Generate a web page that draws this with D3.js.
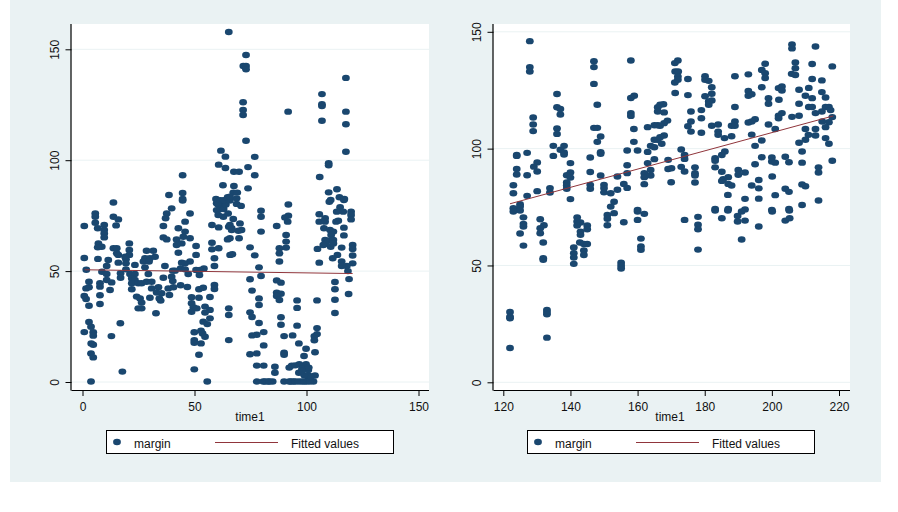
<!DOCTYPE html>
<html><head><meta charset="utf-8">
<style>html,body{margin:0;padding:0;background:#fff}svg{display:block}text{font-family:"Liberation Sans",Arial,sans-serif;font-size:12px;fill:#111}</style>
<script src="https://cdnjs.cloudflare.com/ajax/libs/d3/7.8.5/d3.min.js"></script>
</head><body><svg id="c" width="898" height="512"></svg>
<script>
const legendLabels=["margin","Fitted values"];
const xTitle="time1";
const leftXTicks=[0,50,100,150];
const rightXTicks=[120,140,160,180,200,220];
const yTicks=[0,50,100,150];
const leftFit=[[1,50.6],[120.6,48.9]];
const rightFit=[[122,76.4],[218.3,114]];
const leftPoints=[
[0.8,70.3],[0.8,55.9],[1.7,50.6],[2.9,45.2],[1.6,42.2],[2.9,42.7],[0.8,38.8],[1.6,37.4],[2.9,34.4],[2.9,27.1],[3.8,24.9],[0.8,22.5],[4.8,22.4],[4.8,20.9],[3.9,17.4],[4.8,16.8],[3.8,12.9],[4.8,11.1],[17.8,4.7],[3.8,0.2],
[5.7,76],[5.7,74.5],[5.7,71.8],[6.8,69.3],[9.7,70.8],[9.7,68.5],[9.7,67],[9.7,65.2],[7.1,62.5],[8.6,61],[6.8,60.7],[6.9,55.5],[10.8,52.3],[11.5,55],[8.7,49.7],[10.8,48.7],[7.8,44.5],[7.8,43],[10.8,46],[13,44.9],[12.3,41.5],[7.8,39.1],[7.8,35.2],
[13.8,80.9],[13.8,74.5],[16,73.3],[15,70.6],[13.8,60.3],[15.3,60.3],[15.3,58],[16,57.3],[16,53.8],[19.4,55.3],[20.9,62.5],[20.9,59.5],[20.9,57.3],[19,56.5],[19.4,53.5],[23.4,52.8],[19.4,50.8],[17,49],[17,47],[21.2,48.7],[23.4,48.7],[22,46.7],[23.4,46],[22,44.5],[24.9,44.5],[22,41.8],[26.4,44.5],[28.6,45.2],[29.4,48.7],[30.9,45.2],[27.9,51.7],[28.6,59.2],[31.6,59.2],[27.9,55.8],[30.1,55.8],[32.4,56.5],[27.2,54.3],[29.7,54.3],[36.8,52.3],[36.1,47],[40.3,50.2],[41.3,50.2],[39.8,47.5],[40.3,45.5],[38.3,42.2],[40.6,42.7],[43.8,43.6],[46.8,42.8],[30.9,42.2],[33.9,42.7],[33.1,40.3],[35.3,40],[34.3,37.7],[34.9,36.7],[30.1,38],[24.2,38.5],[25.7,37.7],[26.4,35.8],[24.9,33.2],[26.4,33.2],[32.8,31],[38.8,39.2],[16.9,26.5],[12.9,20.7],
[39.8,78.3],[37.6,76],[37.1,73.8],[36.1,70.3],[42.8,69.3],[45.8,72.3],[48,76],[45.8,67.8],[42,64.3],[45,65.5],[48,64.8],[36.1,65.2],[37.6,64.3],[44.3,62.5],[42,61.8],[42.8,58.3],[50.7,61.3],[50.7,57.3],[44.3,53.8],[48,54.3],[45.8,53.5],[43.8,51.2],[45.8,50.8],[47.2,48.7],[50.7,50.5],[52.2,48.2],[54.2,51.2],[52.5,50.5],[44.7,81.8],
[48.7,38.2],[52,38],[56.9,38.3],[48.7,35.5],[49.5,33.7],[48.7,31.7],[51,33.2],[54.7,34],[56.9,32.5],[54.7,31.3],[56.9,28.7],[53.9,27.2],[55.7,26.1],[49.9,22.4],[52.9,23.1],[53.6,21.9],[54.7,20.4],[49.9,18.9],[49.9,17.7],[52.9,17.4],[52,12.3],[49.9,5.7],[55.7,0.2],[52,41.8],[53.9,42.5],[58.9,43.7],[58.9,41.9],
[57.8,70.8],[60.8,69.7],[57.8,62.8],[57.8,59.8],[60.8,60.3],[58.9,55.8],[58.9,52.3],[64.8,64.3],[65.3,70],[65.9,57.3],[65.3,33.2],[65.3,30.2],[65.3,18.9],[59.9,80.6],[62.9,80.6],[59.9,77.5],[62.9,74.5],[60.6,75.3],
[65.3,157.8],[61.8,104.3],[63.8,101.6],[60.8,98],[63.8,96.5],[44.7,93.2],[62.7,88.7],[38.6,84.3],[44.7,85.2],[44.7,82.5],[59.6,82.5],[64.8,83.3],
[60.5,80],[61.5,78],[63,78],[64,80],[61.5,82],[63,82],[65,76],
[65.8,70.8],[66.6,69.3],[70.3,71.5],[71,68.5],[69.6,68.2],[67.3,73.5],[66.6,68.5],[65.8,64.8],[69.9,64.8],[66.9,57.6],[68.8,80.3],[70.8,79.4],[65.8,81.8],
[79.7,77.2],[79.7,74.5],[79.7,67.8],[86.7,70.3],[91.9,80],[91.9,75],[90.4,74.2],[91.6,72.3],[90.9,66.3],[90.9,63.3],[87.9,60.3],[90.9,60.6],[87.9,58],[87.9,54.3],[74.8,60.7],[76.9,57.1],[78.8,51.7],[79.7,47.8],[74.8,46.3],[86.7,45.8],[88.6,44.8],[75.7,41.2],[78.8,37.7],[78.8,34.7],[86.7,40.3],[88.6,39.8],[86.7,38.8],[87.9,37],[95.8,36.8],[95.8,33.4],[104.7,36.8],[74.8,31.4],[75.7,29.3],[78.8,26.6],[88.6,29.2],[88.6,25.8],[95.8,25.4],[104.7,24.3],[80.9,22.5],[77.8,21.3],[75.7,21],[90,20.7],[93.8,21],[104.7,21.6],[103.5,20.7],[103.5,18.8],[96.6,17.4],[99.8,15],[80.9,16.5],[77.8,12.9],[74.8,12.5],[90,13.2],[90,12.3],[98.9,11.7],[103.8,13.4],[77.8,7.4],[80.9,7.4],[85.9,6.9],[85.9,4.2],[93.4,7.4],[92.3,6.5],[96.8,8],[99.8,8],[96.6,4.2],[100.8,5.4],[103.8,2.9],[100.8,2.9],[77.8,0.2],[80.7,0.2],[82.9,0.2],[84.9,0.2],[90,0.2],[92.3,0.2],[94.1,0.2],[97.9,0.2],[100.1,0.2],[103.1,0.2],[100.8,0.9],
[81.5,0.2],[83.5,0.2],[93,0.2],[95,0.2],[96.5,0.2],[99,0.2],[101.5,0.2],[102,2.5],[99,3],[98,6],[101,6.5],[95,7.5],[98,5],
[105.7,75.6],[105.7,72.3],[108.3,73.8],[108.3,72.3],[107.8,69.3],[110.5,68.5],[112,67.8],[111,66.3],[108.3,64],[109.7,63.7],[112,64],[108.3,62.2],[107.5,61.8],[110.8,61],[112,62.5],[104.9,60],[115.7,60.6],[105.7,53.8],[110.2,81.3],[115,78.8],[113.5,76.8],[116.7,82],[116.4,76.8],[119.9,76.8],[119.9,75.3],[119.9,73.3],[114.2,72.7],[113.2,72.3],[116.7,69.6],[116.7,66.1],[120.6,61.8],[120.6,60],[120.6,57],[113.8,57.3],[111.7,55.8],[115.7,54.3],[115.7,52.3],[120.6,53.5],[118,52.3],[118.5,50],[119,46.4],[112.7,45.1],[112.7,41.8],[112.7,37.1],[118.8,39.7],[112.7,31.1],
[73,147.4],[71.8,142.5],[73,142.5],[73,141],[71.7,126.1],[71.7,122.6],[71.7,120.4],[73,108.8],[76.9,101.5],[73.9,96.9],[67.6,94.8],[69.9,94.8],[76.9,93.2],[67.6,88.4],[73.9,87.3],[67.3,85.4],[69.1,85.4],[68.8,82.8],[65.8,83.6],[91.8,121.9],[106.9,129.8],[106.9,125.2],[106.9,124.4],[106.9,117.8],[117.6,137.1],[117.6,121.9],[117.6,116.2],[117.6,103.8],[109.9,98.6],[109.9,97.7],[105.9,92.4],[113.6,86.9],[109.9,85.5],[114.7,83.3],[110.8,82.1],[116.9,82.5]
];
const rightPoints=[
[127.9,146],[127.9,134.9],[127.9,133],[128.9,113.3],[128.9,110.3],[128.9,107.5],[124,97.3],[124,96.9],[127.1,98.2],[130.1,94.1],[129.1,92.3],[130.1,90.2],[124,91.3],[124,88.9],[127.1,88.6],[123,84.3],[123,80.9],[127.1,79.8],[130.1,81.8],[125,76.2],[123,74.5],[125,75.2],
[136,123.4],[136,117.7],[137,117],[137,114.6],[136,108.6],[136,106.3],[134.9,101.2],[137,99.5],[138.1,101.2],[134.9,96.9],[138.1,98.4],[138.1,97.5],[140,93.8],[140,89.8],[138.9,88.6],[140,87.6],[138.9,85.5],[138.9,84.2],[138.9,82.8],[133.9,83.1],[133.9,81.2],[140,78.4],
[147,137.4],[147,134.9],[147,127.7],[148,118.8],[147,108.9],[148,108.9],[149,105.2],[148,102.9],[145.9,96.2],[149,98.5],[149,97.8],[145.9,90],[149,88.5],[145.9,84.5],[145.9,82.8],[150,84.5],[150,83.1],[150,81.3],[152,80.9],[154,82.4],[154,88.1],[153,77.3],[152,75.2],[155.9,84.9],[156.9,83.2],[156.9,99.2],[156.9,92.9],[156.9,89.5],
[158,137.7],[158,121.7],[159,122.6],[158,115.2],[158,114],[158.9,108.4],[158.9,102.9],[160,99.2],[163,109.2],[163,98.6],[163,93.8],[162,89.5],[162,87.8],[162,84.8],[160,73.8],[165,110],[166,110],[165,103.8],[163.9,101.2],[165,100.6],[166,117.7],[166,115.9],[165,95.5],[163.9,90.9],[163.9,88.5],[166,103.8],
[123,73.1],[125,73.5],[126,70.6],[126,67.8],[126,66.7],[125,63.7],[126,58.5],[122,30.1],[122,28.1],[122,27.4],[122,14.7],[131,69.8],[132.1,67.2],[131,65.9],[131,63.8],[131.9,59.8],[131.9,53.1],[131.9,52.4],[133,31],[133,30.1],[133,29.1],[133,19.1],
[142,70.6],[142,68.8],[143,68.4],[142,67.1],[145,67.1],[145,65.5],[143,64.5],[143,63.1],[142.8,59.8],[144,59.2],[145,59.2],[144,56.4],[144,54.5],[141,57.7],[141,55.2],[141,53.4],[141,50.7],
[151,71.6],[151,70],[153,72.4],[151,67.2],[155.9,68.5],[155.1,51.2],[155.1,49.9],[155.1,48.7],[160,73.1],[160,69.5],[162,72.1],[161,61.5],[161,58.1],[161,56.7],
[172,137.7],[171.1,136.6],[171.2,133],[172.1,133],[172,130.9],[172,129.5],[171.1,128.3],[175,129.8],[171.2,123.8],[175,122.9],[167.7,119],[166.7,118.8],[167.9,115.5],[175.9,115.9],[179,116.5],[179,113],[175.9,111.6],[168.9,112],[167.9,110.9],[166.7,109.8],[175,109.6],[175.9,107.3],[179,106.8],[167.9,105.6],[166.7,104.9],[167.2,102.1],
[180.1,131],[180.1,129.5],[181.2,129],[182.1,126.3],[182.1,123.5],[180.1,122.4],[182.1,120.6],[181.2,120.2],[181.2,118.8],[182.1,109.8],[184,110.3],[184,107.3],[184,105.9],[185.9,104.5],[188,105.3],[188,109.8],[189,111.6],[189,109.8],[189,117.8],[189,131],[193,131.8],[193,124.7],[193,122.6],[194,123.3],[193,111.2],[195,112.6],[194,111.6],[194,106],[195,101.2],[197,103.5],[197,133.7],[198,136.3],[198,132.3],[198,130.2],[197,126.3],[199,121.6],[199,119.2],[199,110.3],[201,108.4],
[202.1,120.9],[202,125.9],[203,126.6],[203,124.9],[202,114.1],[203,115.2],[202,113],[206,144.6],[206,142.9],[207,136.9],[207,134.4],[205.9,132],[207,131.5],[208.1,125.2],[208.1,119.2],[206,113.6],[208.1,114.1],[210,122.6],[211,126],[212,121.6],[212,129.8],[212,136.2],[213,143.7],[218,135.2],[214.9,129.2],[214.9,124.2],[216,121.9],[211,117.8],[212,117.8],[213,115.2],[214.9,115.9],[216,117.8],[217,117.8],[217.5,116.5],[218,113.5],[215,111.6],[217,111.3],[216,109.2],[210,108.4],[213,108.4],[210.9,105.9],[213,105.6],[210,103.8],[208.1,102.5],[216,104.5],[217,102.1],
[173,99.6],[174,97.3],[174,95.6],[169.1,95.2],[169.1,91.3],[170.1,91.6],[173,92.2],[174,90.2],[177.1,92],[177.1,89.5],[177.1,88.5],[170,85.6],[177.1,85.5],[183.1,95.9],[183.1,94.8],[183.1,92],[185.1,97.3],[186,98.8],[185.1,90.1],[187,87.8],[185.5,86.9],[185.1,86.2],[187,84.9],[188,84.2],[186.9,80.2],[190,90.9],[190,88.8],[192,89.8],[194,84.2],[196.1,86.6],[196.1,83],[195,93.3],[197,96.3],[200,96.2],[200,94.5],[201,94],[204,96.5],[205.1,94.2],[209,98.8],[209,94],[213.9,92],[213.9,89.8],[200.1,88.1],[204,82.8],[205.1,81.5],[209,84.7],[210,83.9],[201,80.1],[192,78.5],[196.1,78.6],[218,94.8],[213.9,77.8],[209,75.9],[183.1,74.2],[187,74.2],[192,74],[200,73.8],[205.1,74.2],
[174,69.5],[178,70.8],[178,67.4],[178,65.5],[178,56.8],[183.1,73.5],[185.1,70.2],[186.9,73.5],[189.8,71.2],[189.8,68.8],[192,69.2],[191,73.1],[191,61.1],[196.1,66.7],[200.1,73.1],[204,69.2],[205.3,70.2],[205.2,73.5]
];
const NAVY="#1a476f",MAROON="#90353b",BG="#eaf2f3";
const svg=d3.select("#c");
svg.append("rect").attr("x",10).attr("y",0).attr("width",871).attr("height",482).attr("fill",BG);

function panel(o){
  const x=d3.scaleLinear().domain(o.xd).range(o.xr);
  const y=d3.scaleLinear().domain([0,150]).range(o.yr);
  const g=svg.append("g");
  g.append("rect").attr("x",o.left).attr("y",24).attr("width",o.right-o.left).attr("height",366).attr("fill","#fff");
  g.selectAll("line.grid").data(yTicks).join("line").attr("class","grid")
    .attr("x1",o.left).attr("x2",o.right).attr("y1",d=>y(d)).attr("y2",d=>y(d))
    .attr("stroke",BG).attr("stroke-width",1);
  g.selectAll("ellipse.pt").data(o.points).join("ellipse").attr("class","pt")
    .attr("cx",d=>x(d[0])).attr("cy",d=>y(d[1])).attr("rx",3.9).attr("ry",3.2).attr("fill",NAVY);
  g.append("path").datum(o.fit).attr("fill","none").attr("stroke",MAROON).attr("stroke-width",1)
    .attr("d",d3.line().x(d=>x(d[0])).y(d=>y(d[1])));
  const ax=d3.axisBottom(x).tickValues(o.xt).tickSize(6).tickPadding(6).tickSizeOuter(0);
  const gx=g.append("g").attr("transform","translate(0,390)").call(ax);
  gx.select(".domain").attr("d",`M${o.left},0.5H${o.right}`).attr("stroke","#000").attr("stroke-width",1.2);
  gx.selectAll(".tick line").attr("stroke","#000");
  gx.selectAll("text").attr("font-size",12).attr("font-family",null).style("fill","#111");
  const ay=d3.axisLeft(y).tickValues(yTicks).tickSize(6).tickSizeOuter(0);
  const gy=g.append("g").attr("transform",`translate(${o.left},0)`).call(ay);
  gy.select(".domain").attr("d","M-0.5,24V390.5").attr("stroke","#000").attr("stroke-width",1.2);
  gy.selectAll(".tick line").attr("stroke","#000");
  gy.selectAll("text").attr("font-size",12).attr("font-family",null).style("fill","#111")
    .attr("transform","rotate(-90)").attr("text-anchor","middle").attr("x",0).attr("y",-12.5).attr("dy",0);
  g.append("text").attr("x",o.titleX).attr("y",421).attr("text-anchor","middle").text(xTitle);
  const lx=o.legendX;
  g.append("rect").attr("x",lx+.5).attr("y",430.5).attr("width",287).attr("height",23).attr("fill","#fff").attr("stroke","#000").attr("stroke-width",1);
  g.append("ellipse").attr("cx",lx+11).attr("cy",442).attr("rx",3.9).attr("ry",3.2).attr("fill",NAVY);
  g.append("text").attr("x",lx+28).attr("y",448).text(legendLabels[0]);
  g.append("line").attr("x1",lx+109).attr("x2",lx+172).attr("y1",442.5).attr("y2",442.5).attr("stroke",MAROON);
  g.append("text").attr("x",lx+185).attr("y",448).text(legendLabels[1]);
}
panel({points:leftPoints,fit:leftFit,xd:[0,150],xr:[82.5,418.5],yr:[382,49.3],left:71.5,right:429,xt:leftXTicks,titleX:250,legendX:106});
panel({points:rightPoints,fit:rightFit,xd:[120,220],xr:[503.3,839],yr:[382.3,31.8],left:493.5,right:850,xt:rightXTicks,titleX:670,legendX:527});
</script></body></html>
